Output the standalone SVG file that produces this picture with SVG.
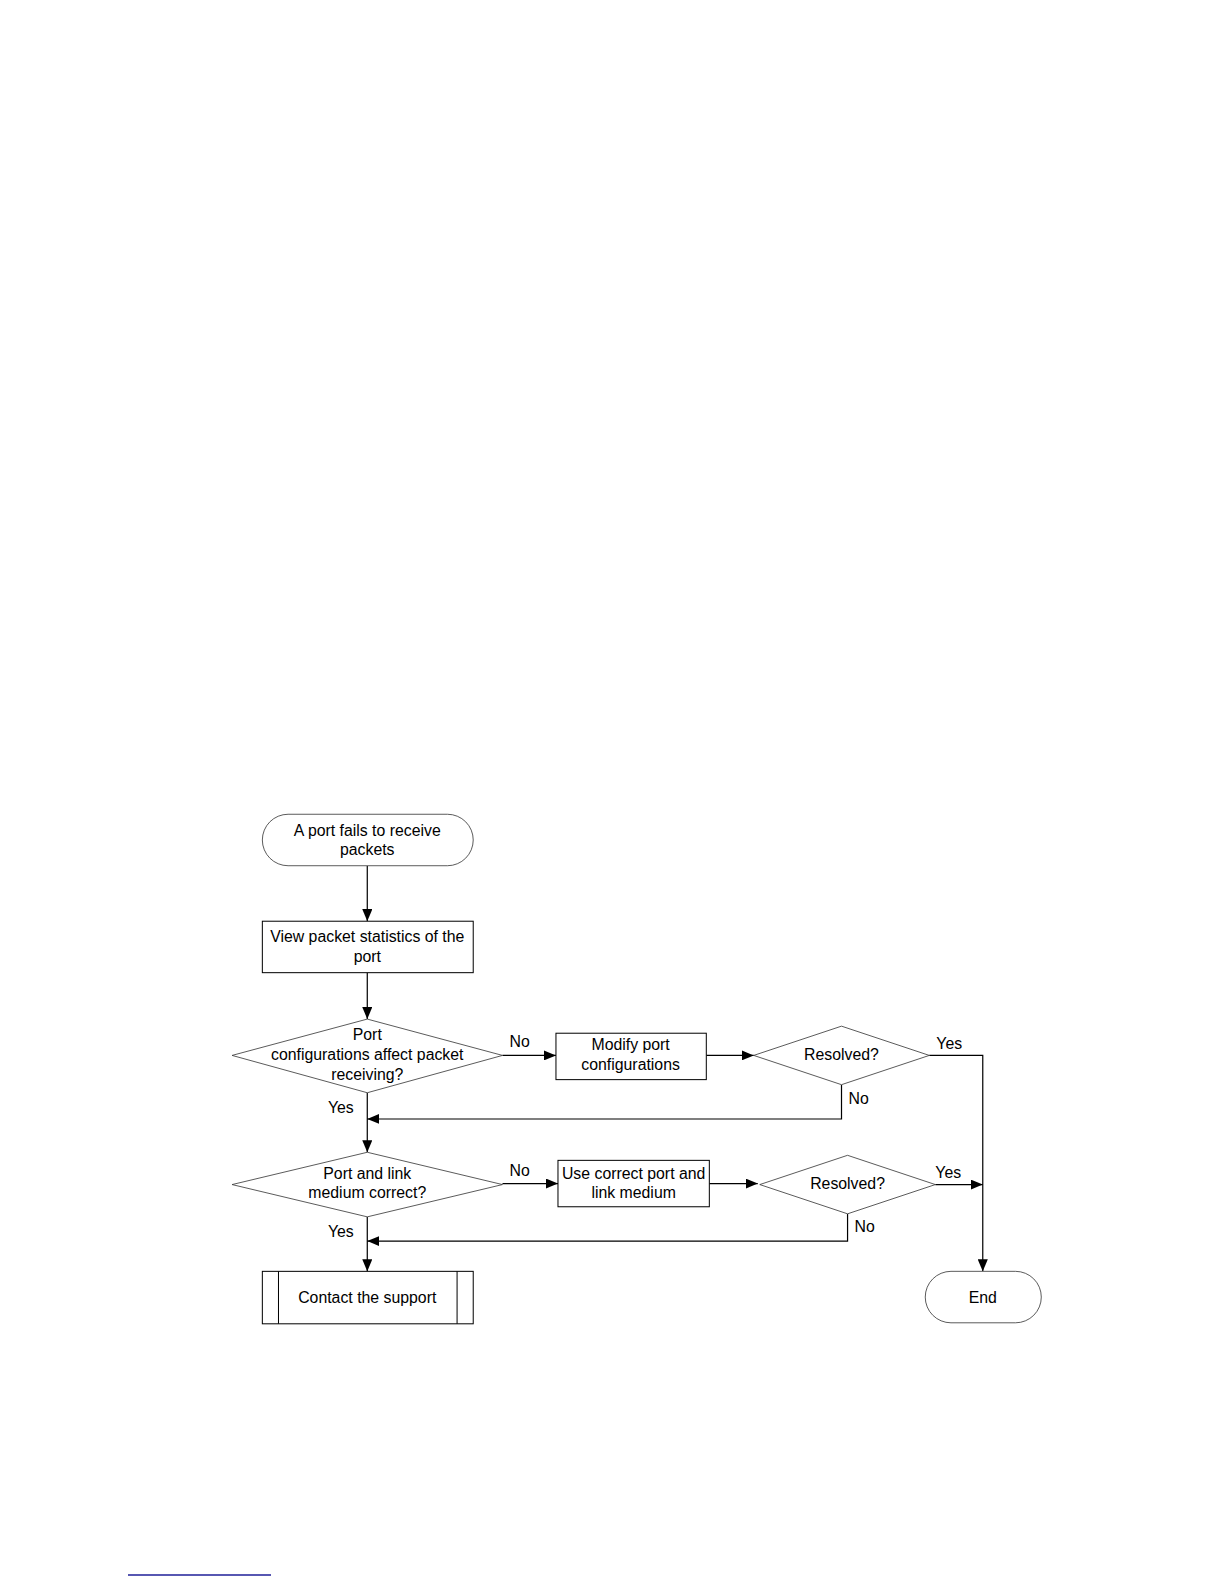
<svg xmlns="http://www.w3.org/2000/svg" width="1224" height="1584" viewBox="0 0 1224 1584">
<defs>
<marker id="ah" markerWidth="12" markerHeight="10" refX="12" refY="5" orient="auto" markerUnits="userSpaceOnUse">
<path d="M0,0 L12,5 L0,10 Z" fill="#000"/>
</marker>
<style>
.n{fill:#fff;stroke:#000;stroke-width:1}
.d{fill:#fff;stroke:#333;stroke-width:0.8}
.t{font-family:"Liberation Sans",Arial,sans-serif;font-size:15.7px;fill:#000;text-anchor:middle}
.l{font-family:"Liberation Sans",Arial,sans-serif;font-size:15.7px;fill:#000}
.c{fill:none;stroke:#000;stroke-width:1.2}
</style>
</defs>
<rect width="1224" height="1584" fill="#fff"/>
<g transform="scale(1.009)">
<g id="connectors">
<line class="c" x1="364" y1="858" x2="364" y2="913" marker-end="url(#ah)"/>
<line class="c" x1="364" y1="964" x2="364" y2="1010" marker-end="url(#ah)"/>
<line class="c" x1="498" y1="1046" x2="551" y2="1046" marker-end="url(#ah)"/>
<line class="c" x1="700" y1="1046" x2="747" y2="1046" marker-end="url(#ah)"/>
<polyline class="c" points="921,1046 974,1046 974,1260" marker-end="url(#ah)"/>
<polyline class="c" points="834,1075 834,1109 364,1109" marker-end="url(#ah)"/>
<line class="c" x1="364" y1="1083" x2="364" y2="1142" marker-end="url(#ah)"/>
<line class="c" x1="498" y1="1173" x2="553" y2="1173" marker-end="url(#ah)"/>
<line class="c" x1="703" y1="1173" x2="751" y2="1173" marker-end="url(#ah)"/>
<line class="c" x1="927" y1="1174" x2="974" y2="1174" marker-end="url(#ah)"/>
<polyline class="c" points="840,1203 840,1230 364,1230" marker-end="url(#ah)"/>
<line class="c" x1="364" y1="1206" x2="364" y2="1260" marker-end="url(#ah)"/>
<text class="l" x="505" y="1038">No</text>
<text class="l" x="928" y="1040">Yes</text>
<text class="l" x="841" y="1094">No</text>
<text class="l" x="325" y="1103">Yes</text>
<text class="l" x="505" y="1166">No</text>
<text class="l" x="927" y="1167">Yes</text>
<text class="l" x="847" y="1221">No</text>
<text class="l" x="325" y="1226">Yes</text>
</g>
<g id="start">
<rect class="d" x="260" y="807" width="209" height="51" rx="25.5" ry="25.5"/>
<text class="t" x="364" y="829">A port fails to receive</text>
<text class="t" x="364" y="847">packets</text>
</g>
<g id="view">
<rect class="n" x="260" y="913" width="209" height="51"/>
<text class="t" x="364" y="934">View packet statistics of the</text>
<text class="t" x="364" y="953">port</text>
</g>
<g id="dec1">
<polygon class="d" points="364,1010 498,1046 364,1083 230,1046"/>
<text class="t" x="364" y="1031">Port</text>
<text class="t" x="364" y="1051">configurations affect packet</text>
<text class="t" x="364" y="1070">receiving?</text>
</g>
<g id="modify">
<rect class="n" x="551" y="1024" width="149" height="46"/>
<text class="t" x="625" y="1041">Modify port</text>
<text class="t" x="625" y="1060">configurations</text>
</g>
<g id="res1">
<polygon class="d" points="834,1017 921,1046 834,1075 747,1046"/>
<text class="t" x="834" y="1051">Resolved?</text>
</g>
<g id="dec2">
<polygon class="d" points="364,1142 498,1174 364,1206 230,1174"/>
<text class="t" x="364" y="1168">Port and link</text>
<text class="t" x="364" y="1187">medium correct?</text>
</g>
<g id="use">
<rect class="n" x="553" y="1150" width="150" height="46"/>
<text class="t" x="628" y="1168">Use correct port and</text>
<text class="t" x="628" y="1187">link medium</text>
</g>
<g id="res2">
<polygon class="d" points="840,1145 927,1174 840,1203 753,1174"/>
<text class="t" x="840" y="1178">Resolved?</text>
</g>
<g id="contact">
<rect class="n" x="260" y="1260" width="209" height="52"/>
<line class="n" x1="276" y1="1260" x2="276" y2="1312"/>
<line class="n" x1="453" y1="1260" x2="453" y2="1312"/>
<text class="t" x="364" y="1291">Contact the support</text>
</g>
<g id="end">
<rect class="d" x="917" y="1260" width="115" height="51" rx="25.5" ry="25.5"/>
<text class="t" x="974" y="1291">End</text>
</g>
</g>
<line x1="128" y1="1575" x2="271" y2="1575" stroke="#1f1f99" stroke-width="1.5"/>
</svg>
